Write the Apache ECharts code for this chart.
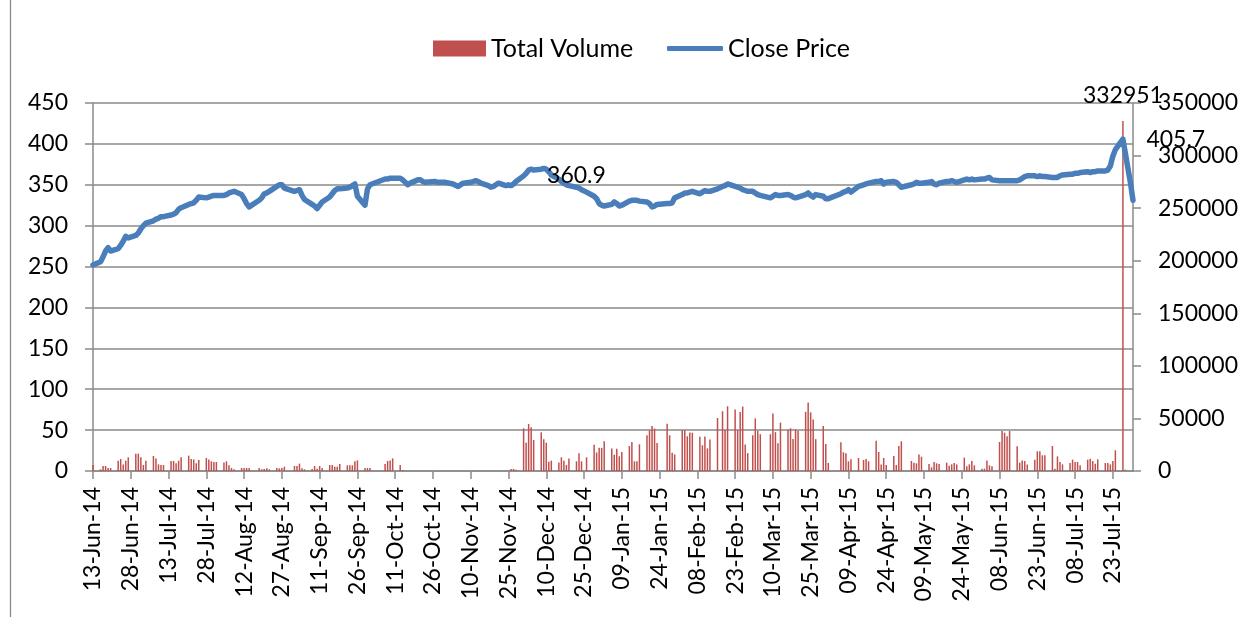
<!DOCTYPE html>
<html><head><meta charset="utf-8">
<script src="https://cdn.jsdelivr.net/npm/echarts@6/dist/echarts.min.js"></script>
<style>html,body{margin:0;padding:0;background:#fff}#c{width:1247px;height:617px}</style>
</head><body><div id="c"></div>
<script>
// ---------- DATA ----------
const startDate = '2014-06-13';
const endDate = '2015-07-31';
const extraSessions = ['2015-02-28']; // Saturday budget session
const tickLabels = ['13-Jun-14','28-Jun-14','13-Jul-14','28-Jul-14','12-Aug-14','27-Aug-14','11-Sep-14','26-Sep-14',
  '11-Oct-14','26-Oct-14','10-Nov-14','25-Nov-14','10-Dec-14','25-Dec-14','09-Jan-15','24-Jan-15','08-Feb-15',
  '23-Feb-15','10-Mar-15','25-Mar-15','09-Apr-15','24-Apr-15','09-May-15','24-May-15','08-Jun-15','23-Jun-15',
  '08-Jul-15','23-Jul-15'];
const seriesNames = ['Total Volume', 'Close Price'];
// one value per trading session (Mon-Fri + extra sessions), null = market holiday
const closePrice = [
  252,                          // 13-Jun-14
  256, 262, 269, 273, 269,      // 16-Jun
  272, 276, 281, 287, 285,      // 23-Jun
  288, 291, 296, 300, 303,      // 30-Jun
  306, 308, 309, 311, 311,      // 07-Jul
  313, 314, 316, 320, 322,      // 14-Jul
  326, 327, 328, 331, 335,      // 21-Jul
  334, 335, 336, 337, 337,      // 28-Jul
  337, 338, 340, 341, 342,      // 04-Aug
  338, 333, 327, 323, null,     // 11-Aug
  331, 334, 339, 340, 342,      // 18-Aug
  348, 350, 350, 346, null,     // 25-Aug
  342, 343, 344, 337, 332,      // 01-Sep
  326, 324, 321, 325, 329,      // 08-Sep
  335, 339, 343, 345, 345,      // 15-Sep
  346, 347, 349, 351, 336,      // 22-Sep
  325, 345, 350, null, null,    // 29-Sep
  null, 357, 357, 358, 358,     // 06-Oct
  358, 356, null, 350, 352,     // 13-Oct
  356, 356, 354, 353, null,     // 20-Oct
  354, 353, 353, 353, 353,      // 27-Oct
  351, null, 348, null, 352,    // 03-Nov
  353, 354, 355, 354, 352,      // 10-Nov
  349, 347, 348, 350, 352,      // 17-Nov
  349, 350, 349, 351, 354,      // 24-Nov
  360.9, 364, 368, 369, 368,    // 01-Dec
  369, 370, 369, 366, 362,      // 08-Dec
  357, 354, 352, 350, 349,      // 15-Dec
  347, 346, 344, null, 341,     // 22-Dec
  336, 333, 327, 325, 324,      // 29-Dec
  326, 329, 327, 324, 325,      // 05-Jan-15
  330, 331, 331, 331, 330,      // 12-Jan
  329, 327, 323, 324, 326,      // 19-Jan
  null, 327, 327, 328, 334,     // 26-Jan
  338, 340, 340, 341, 342,      // 02-Feb
  339, 341, 343, 342, 342,      // 09-Feb
  345, null, 348, 349, 351,     // 16-Feb
  348, 347, 346, 344, 343, 342, // 23-Feb (+ Sat 28-Feb)
  342, 340, 338, 337, null,     // 02-Mar
  334, 336, 338, 337, 337,      // 09-Mar
  338, 337, 335, 334, 335,      // 16-Mar
  338, 340, 337, 335, 338,      // 23-Mar
  336, 333, 333, null, null,    // 30-Mar
  339, 341, 342, 344, 341,      // 06-Apr
  348, null, 350, 351, 352,     // 13-Apr
  354, 354, 355, 351, 353,      // 20-Apr
  354, 353, 350, 347, null,     // 27-Apr
  350, 351, 353, 352, 352,      // 04-May
  353, 354, 351, 350, 352,      // 11-May
  354, 354, 355, 354, 353,      // 18-May
  356, 357, 356, 357, 356,      // 25-May
  357, 357, 358, 359, 356,      // 01-Jun
  355, 355, 355, 355, 355,      // 08-Jun
  355, 356, 358, 360, 361,      // 15-Jun
  361, 360, 361, 360, 360,      // 22-Jun
  359, 359, 359, 361, 362,      // 29-Jun
  363, 363, 364, 364, 365,      // 06-Jul
  366, 365, 366, 366, 367,      // 13-Jul
  367, 368, 373, 385, 393,      // 20-Jul
  405.7, 388, 370, 352, 331     // 27-Jul
];
const totalVolume = [
  5700,                                   // 13-Jun-14
  1600, 4750, 4750, 2850, 2850,           // 16-Jun
  9800, 11400, 6300, 9800, 13000,         // 23-Jun
  16500, 16500, 13000, 5700, 9800,        // 30-Jun
  14300, 12000, 6300, 5700, 5700,         // 07-Jul
  9500, 9500, 7300, 9800, 13000,          // 14-Jul
  14600, 11400, 11000, 7300, 10500,       // 21-Jul
  12400, 11000, 9200, 8600, 8600,         // 28-Jul
  8200, 9200, 5400, 2850, 1600,           // 04-Aug
  2850, 2850, 2850, 2850, null,           // 11-Aug
  2850, 1600, 1900, 2500, 1600,           // 18-Aug
  2850, 2500, 2850, 4100, null,           // 25-Aug
  4750, 4750, 7000, 2500, 1600,           // 01-Sep
  1900, 4750, 2200, 4750, 2850,           // 08-Sep
  5700, 5700, 4100, 4100, 6650,           // 15-Sep
  5400, 5400, 5400, 9200, 10100,          // 22-Sep
  2850, 2850, 2850, null, null,           // 29-Sep
  null, 6650, 9500, 10100, 12000,         // 06-Oct
  5700, 950, null, 0, 0,                  // 13-Oct
  0, 0, 0, 0, null,                       // 20-Oct
  0, 0, 0, 0, 0,                          // 27-Oct
  0, null, 0, null, 0,                    // 03-Nov
  0, 0, 0, 0, 0,                          // 10-Nov
  0, 0, 0, 0, 0,                          // 17-Nov
  0, 0, 1900, 1900, 1300,                 // 24-Nov
  40600, 26900, 44700, 41500, 29500,      // 01-Dec
  36800, 30100, 26900, 8900, 9800,        // 08-Dec
  8200, 13000, 9800, 5700, 12000,         // 15-Dec
  9200, 17000, 9200, null, 13000,         // 22-Dec
  25000, 17600, 22000, 22000, 28200,      // 29-Dec
  21400, 15500, 21200, 14000, 18100,      // 05-Jan-15
  23800, 27600, 9200, 9200, 25400,        // 12-Jan
  33900, 38700, 42800, 40300, 26600,      // 19-Jan
  null, 45000, 34000, 17400, 15800,       // 26-Jan
  38800, 38800, 33000, 36500, 36400,      // 02-Feb
  32500, 24500, 32700, 21500, 30000,      // 09-Feb
  50400, null, 56800, 39000, 61600,       // 16-Feb
  58500, 38800, 56000, 61300, 25200, 17000, // 23-Feb (+ Sat 28-Feb)
  34000, 50000, 38000, 35000, null,       // 02-Mar
  35000, 54600, 37000, 26300, 46000,      // 09-Mar
  39000, 40600, 30500, 39500, 38000,      // 16-Mar
  56300, 65200, 55800, 49000, 30300,      // 23-Mar
  42800, 25700, 7600, null, null,         // 30-Mar
  27300, 17800, 16800, 9200, 11100,       // 06-Apr
  12400, null, 10500, 11400, 9200,        // 13-Apr
  28800, 18100, 6300, 12400, 5700,        // 20-Apr
  14300, 5700, 23800, 28200, null,        // 27-Apr
  9500, 7900, 7300, 15800, 13600,         // 04-May
  6650, 3500, 8600, 7300, 6650,           // 11-May
  7900, 5100, 6300, 7600, 6300,           // 18-May
  12700, 4400, 6300, 9500, 5400,          // 25-May
  2200, 2200, 10100, 5400, 4400,          // 01-Jun
  27600, 38000, 36500, 33000, 38000,      // 08-Jun
  23500, 7900, 10100, 9500, 6300,         // 15-Jun
  10800, 18700, 18700, 14900, 14900,      // 22-Jun
  23800, 2200, 13900, 8600, 6300,         // 29-Jun
  7600, 10800, 8600, 8600, 5400,          // 06-Jul
  10800, 11700, 9500, 7000, 11100,        // 13-Jul
  7600, 7600, 6300, 9500, 19700,          // 20-Jul
  332951, 1300, 0, 0, 0                   // 27-Jul
];
const priceLabelDates = ['2014-12-01', '2015-07-27'];
const volumeLabelDates = ['2015-07-27'];

// ---------- BUILD ----------
const DAY = 86400000;
const MON = {Jan:0,Feb:1,Mar:2,Apr:3,May:4,Jun:5,Jul:6,Aug:7,Sep:8,Oct:9,Nov:10,Dec:11};
function utc(s){ const p = s.split('-').map(Number); return Date.UTC(p[0], p[1]-1, p[2]); }
const t0 = utc(startDate), t1 = utc(endDate);
const tradingDates = [];
for (let t = t0; t <= t1; t += DAY) {
  const d = new Date(t), wd = d.getUTCDay(), iso = d.toISOString().slice(0,10);
  if ((wd >= 1 && wd <= 5) || extraSessions.indexOf(iso) >= 0) tradingDates.push(iso);
}
const dayIndex = s => Math.round((utc(s) - t0) / DAY);
const tickValues = tickLabels.map(s => { const p = s.split('-'); return Math.round((Date.UTC(2000 + +p[2], MON[p[1]], +p[0]) - t0) / DAY); });
const tickText = {}; tickValues.forEach((v, i) => { tickText[v] = tickLabels[i]; });

const font = 'Lato';
const gray = '#8a8a8a';
const lineData = [], barData = [];
tradingDates.forEach((s, i) => {
  const x = dayIndex(s);
  const c = closePrice[i], v = totalVolume[i];
  if (c != null) {
    const it = { value: [x, c] };
    if (priceLabelDates.indexOf(s) >= 0) it.label = { show: true, position: 'right', distance: 23, formatter: String(c) };
    lineData.push(it);
  }
  if (v != null) {
    const it = { value: [x, v] };
    if (volumeLabelDates.indexOf(s) >= 0) it.label = { show: true, position: 'top', distance: 14, formatter: String(v) };
    barData.push(it);
  }
});

const chart = echarts.init(document.getElementById('c'), null, { renderer: 'canvas' });
const axisLbl = { fontFamily: font, fontSize: 23, color: '#000' };
chart.setOption({
  animation: false,
  backgroundColor: '#fff',
  textStyle: { fontFamily: font },
  graphic: [
    { type: 'line', shape: { x1: 10.5, y1: 0, x2: 10.5, y2: 617 }, style: { stroke: gray, lineWidth: 1.3 } }
  ],
  legend: [
    { data: [{ name: seriesNames[0], icon: 'rect' }], left: 433, top: 36, padding: 0, itemWidth: 53, itemHeight: 16,
      selectedMode: false, textStyle: { fontFamily: font, fontSize: 25, color: '#000' } },
    { data: [{ name: seriesNames[1], icon: 'roundRect' }], left: 667, top: 36, padding: 0, itemWidth: 56, itemHeight: 5,
      selectedMode: false, textStyle: { fontFamily: font, fontSize: 25, color: '#000' } }
  ],
  grid: { left: 93, right: 114, top: 103, bottom: 146, containLabel: false },
  xAxis: {
    type: 'value', min: 0, max: dayIndex(endDate),
    axisLine: { show: true, onZero: false, lineStyle: { color: gray, width: 1.5 } },
    axisTick: { show: true, customValues: tickValues, length: 8, lineStyle: { color: gray, width: 1.5 } },
    axisLabel: Object.assign({ customValues: tickValues, rotate: 90, margin: 16, formatter: v => tickText[v] || '' }, axisLbl),
    splitLine: { show: false }
  },
  yAxis: [
    { type: 'value', min: 0, max: 450, interval: 50, position: 'left',
      axisLine: { show: true, onZero: false, lineStyle: { color: gray, width: 1.5 } },
      axisTick: { show: true, length: 8, lineStyle: { color: gray, width: 1.5 } },
      axisLabel: Object.assign({ margin: 25, formatter: v => String(v) }, axisLbl),
      splitLine: { show: true, lineStyle: { color: gray, width: 1.5 } } },
    { type: 'value', min: 0, max: 350000, interval: 50000, position: 'right',
      axisLine: { show: true, onZero: false, lineStyle: { color: gray, width: 1.5 } },
      axisTick: { show: true, length: 8, lineStyle: { color: gray, width: 1.5 } },
      axisLabel: Object.assign({ margin: 25, formatter: v => String(v) }, axisLbl),
      splitLine: { show: false } }
  ],
  series: [
    { name: seriesNames[0], type: 'bar', xAxisIndex: 0, yAxisIndex: 1, data: barData, barWidth: 1.5,
      itemStyle: { color: '#C0504D' }, label: { fontFamily: font, fontSize: 23, color: '#000' } },
    { name: seriesNames[1], type: 'line', xAxisIndex: 0, yAxisIndex: 0, data: lineData,
      symbol: 'circle', symbolSize: 1, showSymbol: true, connectNulls: true,
      itemStyle: { color: '#4A7EBB', borderWidth: 0 },
      lineStyle: { color: '#4A7EBB', width: 5.5, join: 'round', cap: 'round' },
      label: { fontFamily: font, fontSize: 23, color: '#000' } }
  ]
});
</script>
</body></html>
